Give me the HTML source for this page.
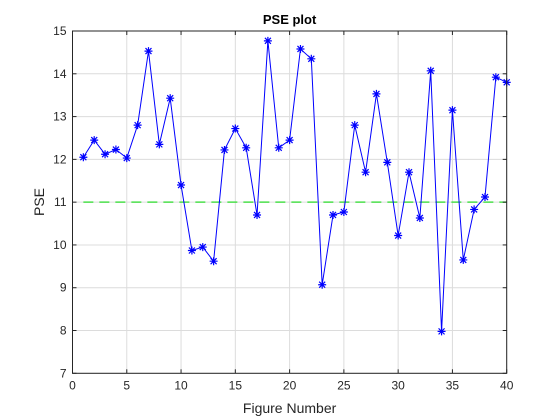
<!DOCTYPE html>
<html><head><meta charset="utf-8"><style>
html,body{margin:0;padding:0;background:#fff;}
svg{display:block;font-family:"Liberation Sans",sans-serif;}
</style></head><body>
<svg id="chart" width="560" height="420">
<rect width="560" height="420" fill="#fff"/>
<rect x="72.5" y="31" width="434.2" height="342.3" fill="#fff"/>
<g id="grid"></g>
<g id="series"></g>
<rect x="72.5" y="31" width="434.2" height="342.3" fill="none" stroke="#262626" stroke-width="1"/>
<g id="ticks"></g>
<text x="289.6" y="24" text-anchor="middle" font-size="13" font-weight="bold" fill="#000">PSE plot</text>
<text x="289.6" y="413" text-anchor="middle" font-size="14" fill="#262626">Figure Number</text>
<text x="44" y="202" text-anchor="middle" font-size="14" fill="#262626" transform="rotate(-90 44 202)">PSE</text>
</svg>
<script>
const figures = [1,2,3,4,5,6,7,8,9,10,11,12,13,14,15,16,17,18,19,20,21,22,23,24,25,26,27,28,29,30,31,32,33,34,35,36,37,38,39,40];
const pse = [12.05,12.45,12.12,12.23,12.03,12.8,14.53,12.35,13.43,11.4,9.87,9.95,9.62,12.22,12.72,12.27,10.7,14.77,12.27,12.45,14.58,14.35,9.07,10.7,10.77,12.8,11.7,13.53,11.93,10.22,11.7,10.63,14.07,7.98,13.15,9.65,10.83,11.12,13.92,13.8];
const threshold = [11];
const xTicks = [0,5,10,15,20,25,30,35,40];
const yTicks = [7,8,9,10,11,12,13,14,15];
const X0=72.5,X1=506.7,Y0=373.3,Y1=31;
const sx=v=>X0+(v-0)/(40-0)*(X1-X0);
const sy=v=>Y0-(v-7)/(15-7)*(Y0-Y1);
const NS="http://www.w3.org/2000/svg";
function mk(tag,attrs,parent){const e=document.createElementNS(NS,tag);for(const k in attrs)e.setAttribute(k,attrs[k]);parent.appendChild(e);return e;}
const grid=document.getElementById('grid'),ticks=document.getElementById('ticks'),series=document.getElementById('series');
xTicks.forEach(t=>{
  const x=sx(t);
  const g=mk('line',{x1:x,x2:x,y1:Y1,y2:Y0,stroke:'#dcdcdc','stroke-width':1},grid);
  
  
  mk('line',{x1:x,x2:x,y1:Y0,y2:Y0-4,stroke:'#262626'},ticks);
  mk('line',{x1:x,x2:x,y1:Y1,y2:Y1+4,stroke:'#262626'},ticks);
  const l=mk('text',{x:x,y:Y0+16,'text-anchor':'middle','font-size':12,fill:'#262626'},ticks);
  l.textContent=t;
  
  
});
yTicks.forEach(t=>{
  const y=sy(t);
  const g=mk('line',{x1:X0,x2:X1,y1:y,y2:y,stroke:'#dcdcdc','stroke-width':1},grid);
  
  
  mk('line',{x1:X0,x2:X0+4,y1:y,y2:y,stroke:'#262626'},ticks);
  mk('line',{x1:X1,x2:X1-4,y1:y,y2:y,stroke:'#262626'},ticks);
  const l=mk('text',{x:X0-6,y:y+4,'text-anchor':'end','font-size':12,fill:'#262626'},ticks);
  l.textContent=t;
  
  
});
const th=mk('line',{x1:sx(1),x2:X1,y1:sy(threshold[0]),y2:sy(threshold[0]),stroke:'#4ce04c','stroke-width':1.5,'stroke-dasharray':'10,6'},series);


const pl=mk('polyline',{points:figures.map((f,i)=>sx(f)+','+sy(pse[i])).join(' '),fill:'none',stroke:'#0000ff','stroke-width':1},series);


figures.forEach((f,i)=>{
  const x=sx(f),y=sy(pse[i]),r=4;
  const m=mk('path',{d:`M${x-r},${y}H${x+r}M${x},${y-r}V${y+r}M${x-3},${y-3}L${x+3},${y+3}M${x-3},${y+3}L${x+3},${y-3}`,stroke:'#0000ff','stroke-width':1.2,fill:'none'},series);
  
  
});
</script>
</body></html>
